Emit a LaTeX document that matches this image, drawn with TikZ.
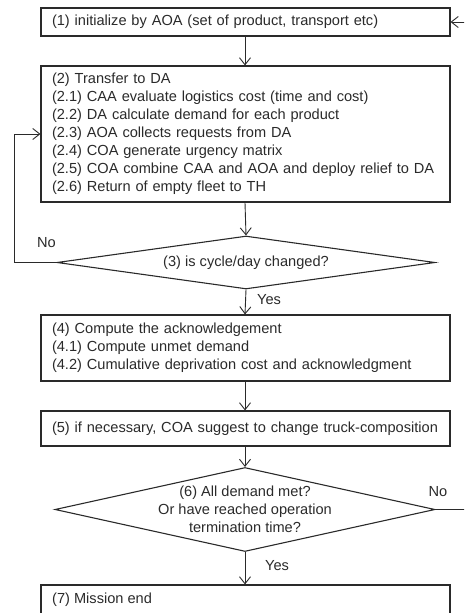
\documentclass[tikz,border=0pt]{standalone}
\usepackage{fontspec}
\setmainfont{Liberation Sans}
\usetikzlibrary{arrows.meta,shapes.geometric}
\definecolor{ink}{HTML}{2A2A2A}
\begin{document}
\begin{tikzpicture}[x=1pt,y=-1pt,
  font=\fontsize{14.6}{18}\selectfont,
  every node/.style={text=ink},
  box/.style={draw=ink,line width=1.1pt,rectangle,inner xsep=11pt,inner ysep=0pt,
    text width=387pt,align=left,anchor=center},
  dia/.style={draw=ink,line width=1.1pt,diamond,inner sep=0pt},
  arr/.style={draw=ink,line width=0.9pt,-{Straight Barb[length=7pt,width=11pt,line width=0.9pt]}},
  ln/.style={draw=ink,line width=0.9pt},
  lbl/.style={inner sep=0pt}]
\useasboundingbox (0,0) rectangle (464,613);
\clip (0,0) rectangle (464,613);
\node[box,minimum height=28pt] (b1) at (245.5,22) {(1) initialize by AOA (set of product, transport etc)};
\node[box,minimum height=136pt] (b2) at (245.5,134) {(2) Transfer to DA\\
(2.1) CAA evaluate logistics cost (time and cost)\\
(2.2) DA calculate demand for each product\\
(2.3) AOA collects requests from DA\\
(2.4) COA generate urgency matrix\\
(2.5) COA combine CAA and AOA and deploy relief to DA\\
(2.6) Return of empty fleet to TH};
\node[dia,minimum width=378pt,minimum height=53pt] (d3) at (246,262.5) {};
\node[lbl] (d3t) at (d3.center) {(3) is cycle/day changed?};
\node[box,minimum height=66pt] (b4) at (245.5,348) {(4) Compute the acknowledgement\\
(4.1) Compute unmet demand\\
(4.2) Cumulative deprivation cost and acknowledgment};
\node[box,minimum height=35pt] (b5) at (245.5,428.5) {(5) if necessary, COA suggest to change truck-composition};
\node[dia,minimum width=380pt,minimum height=84pt] (d6) at (245,509.5) {};
\node[lbl,align=center,font=\fontsize{14.6}{18}\selectfont] (d6t) at (d6.center) {(6) All demand met?\\Or have reached operation\\termination time?};
\node[box,minimum height=60pt] (b7) at (245.5,615) {};
\node[lbl,anchor=west] (b7t) at (52,600) {(7) Mission end};
% labels
\node[lbl] (no3) at (46.5,243) {No};
\node[lbl] (yes3) at (269,300) {Yes};
\node[lbl] (no6) at (438,492) {No};
\node[lbl] (yes6) at (277,566) {Yes};
% connectors
\draw[arr] (b1.south -| 245,0) -- (b2.north -| 245,0);
\draw[arr] (b2.south -| 245,0) -- (d3.north);
\draw[arr] (d3.south) -- (b4.north -| 245,0);
\draw[arr] (b4.south -| 245,0) -- (b5.north -| 245,0);
\draw[arr] (b5.south -| 245,0) -- (d6.north);
\draw[arr] (d6.south) -- (b7.north -| 245,0);
\draw[arr] (d3.west) -| ([xshift=-26pt]b2.west) -- (b2.west);
\draw[arr] (d6.east) -| ([xshift=30pt]b1.east) -- (b1.east);
\end{tikzpicture}
\end{document}
